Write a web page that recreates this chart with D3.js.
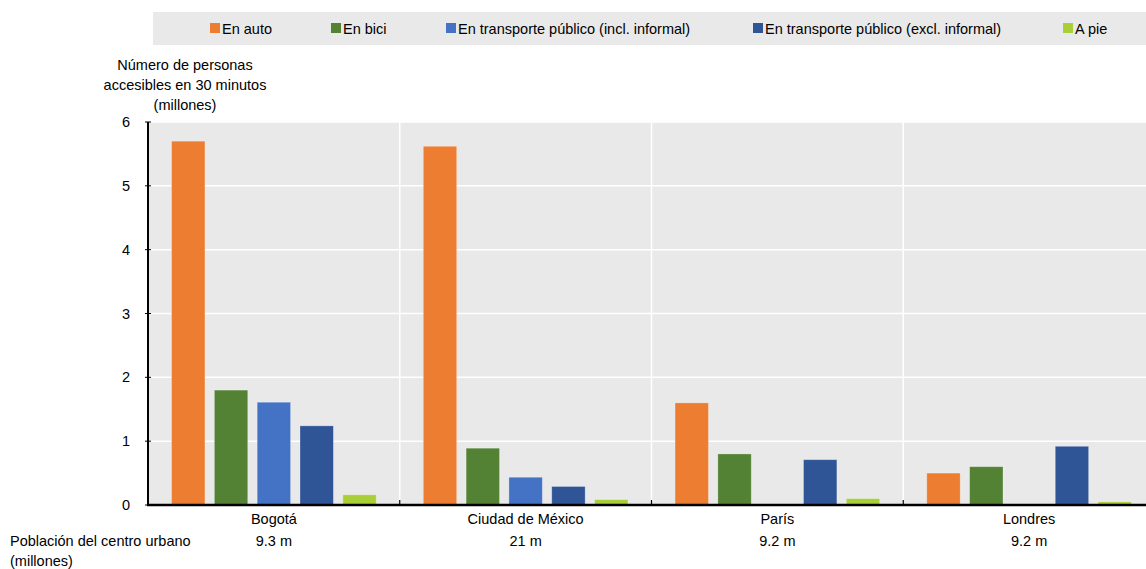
<!DOCTYPE html>
<html><head><meta charset="utf-8">
<script src="https://cdn.jsdelivr.net/npm/d3@7"></script>
<style>
body{margin:0;background:#fff;}
svg{display:block;font-family:"Liberation Sans Narrow","Arial Narrow","Liberation Sans",sans-serif;}
</style></head>
<body><svg id="c" width="1146" height="569"></svg>
<script>
const cities = ["Bogotá", "Ciudad de México", "París", "Londres"];
const population = ["9.3 m", "21 m", "9.2 m", "9.2 m"];
const series = ["En auto", "En bici", "En transporte público (incl. informal)", "En transporte público (excl. informal)", "A pie"];
const colors = ["#ED7D31", "#548235", "#4472C4", "#2F5597", "#A9CF38"];
const enAuto = [5.70, 5.62, 1.60, 0.50];
const enBici = [1.80, 0.89, 0.80, 0.60];
const tpIncl = [1.61, 0.435, null, null];
const tpExcl = [1.24, 0.29, 0.71, 0.92];
const aPie = [0.16, 0.085, 0.10, 0.05];
const yTicks = [0, 1, 2, 3, 4, 5, 6];

const values = [enAuto, enBici, tpIncl, tpExcl, aPie];
const svg = d3.select("#c");
const fs = 14.5;
const pL = 148, pR = 1155, pT = 122, pB = 505;

const x0 = d3.scaleBand().domain(cities).range([pL, pR]);
const x1 = d3.scaleBand().domain(series).range([0, x0.bandwidth()]).paddingInner(0.22).paddingOuter(0.55);
const y = d3.scaleLinear().domain([0, 6]).range([pB, pT]);

// legend
svg.append("rect").attr("x", 153).attr("y", 12).attr("width", 1000).attr("height", 33).attr("fill", "#e9e9e9");
const legX = [210, 331, 446, 753, 1063];
series.forEach((s, i) => {
  svg.append("rect").attr("x", legX[i]).attr("y", 23).attr("width", 10).attr("height", 10).attr("fill", colors[i]);
  svg.append("text").attr("x", legX[i] + 12).attr("y", 34).attr("font-size", fs).attr("fill", "#000").text(s);
});

// plot background
svg.append("rect").attr("x", pL).attr("y", pT).attr("width", pR - pL).attr("height", pB - pT).attr("fill", "#e9e9e9");
svg.append("g").selectAll("line").data(yTicks.filter(d => d > 0)).join("line")
  .attr("x1", pL).attr("x2", pR).attr("y1", d => y(d)).attr("y2", d => y(d))
  .attr("stroke", "#fff").attr("stroke-width", 1.5);
svg.append("g").selectAll("line").data(cities.slice(1)).join("line")
  .attr("x1", d => x0(d)).attr("x2", d => x0(d)).attr("y1", pT).attr("y2", pB)
  .attr("stroke", "#fff").attr("stroke-width", 1.5);

// bars
const gs = svg.append("g").selectAll("g").data(cities).join("g").attr("transform", d => `translate(${x0(d)},0)`);
gs.each(function(c, ci) {
  const g = d3.select(this);
  series.forEach((s, si) => {
    const v = values[si][ci];
    if (v == null) return;
    g.append("rect").attr("x", x1(s)).attr("width", x1.bandwidth())
      .attr("y", y(v)).attr("height", y(0) - y(v)).attr("fill", colors[si])
      .attr("stroke", "rgba(255,255,255,0.35)").attr("stroke-width", 0.8);
  });
});

// y axis
const ya = svg.append("g").attr("transform", `translate(${pL},0)`)
  .call(d3.axisLeft(y).tickValues(yTicks).tickSize(0).tickPadding(18).tickFormat(d3.format("d")));
ya.select(".domain").remove();
ya.selectAll("text").attr("font-size", fs).attr("font-family", null).attr("fill", "#000");
ya.selectAll("line.tk").data(yTicks).join("line").attr("class", "tk")
  .attr("x1", -3).attr("x2", 3).attr("y1", d => y(d)).attr("y2", d => y(d)).attr("stroke", "#000").attr("stroke-width", 1);
svg.append("line").attr("x1", pL).attr("x2", pL).attr("y1", pT).attr("y2", pB).attr("stroke", "#000").attr("stroke-width", 2);

// x axis
const xa = svg.append("g").attr("transform", `translate(0,${pB})`)
  .call(d3.axisBottom(x0).tickSize(0).tickPadding(9));
xa.select(".domain").remove();
xa.selectAll("text").attr("font-size", fs).attr("font-family", null).attr("fill", "#000");
svg.append("line").attr("x1", pL - 1).attr("x2", pR).attr("y1", pB).attr("y2", pB).attr("stroke", "#000").attr("stroke-width", 2.5);
svg.append("g").selectAll("line").data(cities.slice(1)).join("line")
  .attr("x1", d => x0(d)).attr("x2", d => x0(d)).attr("y1", pB).attr("y2", pB - 5)
  .attr("stroke", "#000").attr("stroke-width", 1.2);

// population
svg.append("g").selectAll("text").data(cities).join("text")
  .attr("x", d => x0(d) + x0.bandwidth() / 2).attr("y", 546).attr("text-anchor", "middle")
  .attr("font-size", fs).text((d, i) => population[i]);
svg.append("text").attr("x", 10).attr("y", 546).attr("font-size", fs).text("Población del centro urbano");
svg.append("text").attr("x", 10).attr("y", 566).attr("font-size", fs).text("(millones)");

// y title
const yt = ["Número de personas", "accesibles en 30 minutos", "(millones)"];
svg.append("g").selectAll("text").data(yt).join("text")
  .attr("x", 185).attr("y", (d, i) => 70 + i * 20).attr("text-anchor", "middle").attr("font-size", fs).text(d => d);
</script></body></html>
